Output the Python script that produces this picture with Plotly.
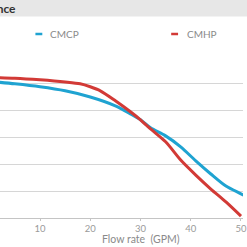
import plotly.graph_objects as go

# Data
series_names = ["CMCP", "CMHP"]
series_colors = ["#1fa3d1", "#d23a36"]

cmcp_flow = [0, 5, 10, 15, 20, 25, 28, 30, 32, 35, 38, 41, 44, 47, 50, 52]
cmcp_head = [50.9, 50.0, 48.9, 47.4, 45.1, 41.8, 38.8, 36.6, 33.6, 30.6, 26.5, 21.3, 16.4, 11.9, 9.0, 7.1]

cmhp_flow = [0, 5, 10, 15, 18, 20, 22, 25, 28, 30, 32, 35, 38, 41, 44, 47, 50]
cmhp_head = [52.4, 52.1, 51.5, 50.7, 50.0, 48.9, 47.4, 43.7, 39.6, 36.6, 33.2, 28.4, 21.6, 16.0, 10.8, 6.0, 0.7]

x_ticks = [10, 20, 30, 40, 50]
x_title = "Flow rate  (GPM)"
title_text = "Performance"

W, H = 247, 247
T, B = 57, 29
fig = go.Figure()
for name, color, xs, ys in [(series_names[0], series_colors[0], cmcp_flow, cmcp_head),
                            (series_names[1], series_colors[1], cmhp_flow, cmhp_head)]:
    fig.add_trace(go.Scatter(x=xs, y=ys, mode="lines", name=name,
                             line=dict(color=color, width=3, shape="spline", smoothing=0.8),
                             showlegend=False, cliponaxis=True))

fig.update_layout(
    width=W, height=H,
    margin=dict(l=0, r=0, t=T, b=B),
    paper_bgcolor="white", plot_bgcolor="white",
    xaxis=dict(range=[2.04, 50.4], tickvals=x_ticks, showgrid=False, zeroline=False,
               showline=True, linecolor="#c4c4c4", linewidth=1,
               ticks="outside", ticklen=2, tickcolor="#c4c4c4",
               ticklabeloverflow="allow",
               tickfont=dict(family="Lato", size=9.5, color="#9a9a9a")),
    yaxis=dict(range=[0, 60], dtick=10, showgrid=True, gridcolor="#d6d6d6", gridwidth=1,
               zeroline=False, showticklabels=False, showline=False),
    showlegend=False,
)

plot_h = H - T - B
def py_to_paper(py):
    return (H - B - py) / plot_h
def px_to_paper(px):
    return px / W

fig.add_shape(type="rect", xref="paper", yref="paper",
              x0=px_to_paper(-5), x1=px_to_paper(W + 5),
              y0=py_to_paper(16.5), y1=py_to_paper(-5),
              fillcolor="#e7e7e7", line=dict(width=0), layer="below")
fig.add_annotation(text="<b>" + title_text + "</b>", xref="paper", yref="paper",
                   x=px_to_paper(18), y=py_to_paper(8.5), xanchor="right", yanchor="middle",
                   showarrow=False, font=dict(family="Lato", size=12, color="#333333"))

# legend
legend_pos = [(36, 49), (174, 188)]
for (lx, tx), name, color in zip(legend_pos, series_names, series_colors):
    fig.add_shape(type="line", xref="paper", yref="paper",
                  x0=px_to_paper(lx), x1=px_to_paper(lx + 7),
                  y0=py_to_paper(34), y1=py_to_paper(34),
                  line=dict(color=color, width=2.5))
    fig.add_annotation(text=name, xref="paper", yref="paper",
                       x=px_to_paper(tx), y=py_to_paper(34), xanchor="left", yanchor="middle",
                       showarrow=False, font=dict(family="Lato", size=10, color="#8a8a8a"))

fig.add_annotation(text=x_title, xref="paper", yref="paper",
                   x=px_to_paper(143), y=py_to_paper(239), xanchor="center", yanchor="middle",
                   showarrow=False, font=dict(family="Lato", size=10.5, color="#8a8a8a"))

fig.write_html("out.html")
